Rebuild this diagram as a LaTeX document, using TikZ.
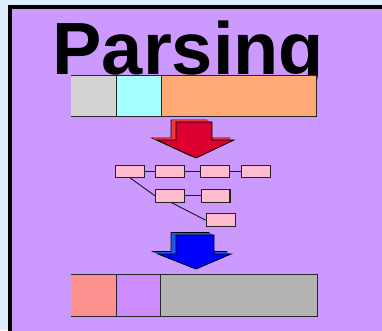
\documentclass[tikz,border=0pt]{standalone}
\usepackage{fontspec}
\setmainfont{Liberation Sans}
\usetikzlibrary{calc}
\definecolor{bgblue}{HTML}{DDEEFF}
\definecolor{panel}{HTML}{CC99FF}
\definecolor{bargray}{HTML}{D3D3D3}
\definecolor{barcyan}{HTML}{A6FFFF}
\definecolor{barorange}{HTML}{FFAA77}
\definecolor{barsalmon}{HTML}{FF9090}
\definecolor{barpurple}{HTML}{CC8CFF}
\definecolor{bardgray}{HTML}{B3B3B3}
\definecolor{redfront}{HTML}{DC0030}
\definecolor{redside}{HTML}{F03A40}
\definecolor{bluefront}{HTML}{0000FF}
\definecolor{blueside}{HTML}{1A5AE6}
\definecolor{boxline}{HTML}{222222}
\definecolor{linkline}{HTML}{1A1A1A}
\definecolor{boxpink}{HTML}{FFBCCE}
\begin{document}
\begin{tikzpicture}[x=1pt,y=-1pt,
  treebox/.style={draw=boxline,line width=1.1pt,fill=boxpink,minimum width=28.7pt,minimum height=12.5pt,inner sep=0pt,anchor=north west},
  link/.style={draw=linkline,line width=0.9pt},
  barline/.style={draw=black!85,line width=1pt}]
\useasboundingbox (0,0) rectangle (382,330);
\fill[bgblue] (0,0) rectangle (382,330);
\begin{scope}
\clip (0,0) rectangle (382,330);
\filldraw[fill=panel,draw=black,line width=4pt] (10,7) rectangle (400,350);
\end{scope}
% title
\node[anchor=base west,inner sep=0pt,font=\fontsize{74}{74}\selectfont\bfseries] (title) at (52.4,74) {Parsing};
% top bar
\fill[bargray] (71,75) rectangle (116,116.7);
\fill[barcyan] (116,75) rectangle (161,116.7);
\fill[barorange] (161,75) rectangle (316,116.7);
\draw[barline] (71,75) -- (316,75) -- (316,116.7) -- (71,116.7);
\draw[barline] (116,75) -- (116,116.7) (161,75) -- (161,116.7);
% red arrow
\def\arrowshape#1#2#3#4#5#6#7#8{(#1,#3) -- (#2,#3) -- (#2,#4) -- (#6,#4) -- (#7,#8) -- (#5,#4) -- (#1,#4) -- cycle}
\draw[fill=redside,draw=black,line width=0.8pt,shift={(-5,-2)}] \arrowshape{176}{212}{122}{140}{157}{234}{196}{158};
\foreach \d in {4,3.5,...,0.5} \fill[redside,shift={(-\d,-0.4*\d)}] \arrowshape{176}{212}{122}{140}{157}{234}{196}{158};
\draw[fill=redfront,draw=black,line width=0.8pt] \arrowshape{176}{212}{122}{140}{157}{234}{196}{158};
% tree
\node[treebox] (A) at (115,164.5) {};
\node[treebox] (B) at (155,164.5) {};
\node[treebox] (C) at (200,164.5) {};
\node[treebox] (D) at (241.3,164.5) {};
\node[treebox] (E) at (155,189) {};
\node[treebox] (F) at (200.7,189) {};
\node[treebox,minimum width=29.5pt] (G) at (205.5,213.3) {};
\draw[link] (A) -- (B);
\draw[link] (B) -- (C);
\draw[link] (C) -- (D);
\draw[link] (E) -- (F);
\draw[link] ($(A.south)+(0.5,0)$) -- (E.west);
\draw[link] ($(E.south)+(1.5,0)$) -- (G.west);
% blue arrow
\draw[fill=blueside,draw=black,line width=0.8pt,shift={(-5,-2.5)}] \arrowshape{176}{214}{235}{254}{158}{231}{196}{269};
\foreach \d in {4,3.5,...,0.5} \fill[blueside,shift={(-\d,-0.5*\d)}] \arrowshape{176}{214}{235}{254}{158}{231}{196}{269};
\draw[fill=bluefront,draw=black,line width=0.8pt] \arrowshape{176}{214}{235}{254}{158}{231}{196}{269};
% bottom bar
\fill[barsalmon] (71,274.5) rectangle (116,316);
\fill[barpurple] (116,274.5) rectangle (160.7,316);
\fill[bardgray] (160.7,274.5) rectangle (317,316);
\draw[barline] (71,274.5) -- (317,274.5) -- (317,316) -- (71,316);
\draw[barline] (116,274.5) -- (116,316) (160.7,274.5) -- (160.7,316);
\end{tikzpicture}
\end{document}
